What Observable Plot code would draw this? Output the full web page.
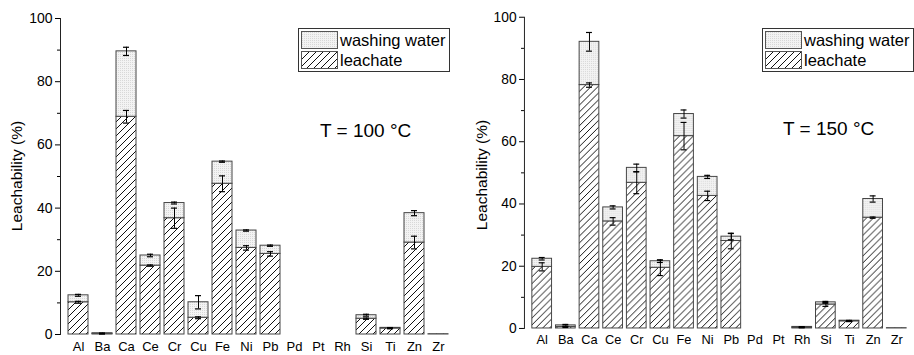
<!DOCTYPE html>
<html><head><meta charset="utf-8">
<script src="https://cdn.jsdelivr.net/npm/d3@7"></script>
<script src="https://cdn.jsdelivr.net/npm/@observablehq/plot@0.6"></script>
<style>
body{margin:0;background:#fff;}
#wrap{position:relative;width:914px;height:355px;overflow:hidden;font-family:"Liberation Sans",Arial,sans-serif;background:#fff;}
.abs{position:absolute;top:0;}
</style>
</head><body>
<div id="wrap"></div>
<script>
// ---- data ----
const elements = ["Al","Ba","Ca","Ce","Cr","Cu","Fe","Ni","Pb","Pd","Pt","Rh","Si","Ti","Zn","Zr"];
const seriesNames = ["washing water","leachate"];
const yTicks = [0,20,40,60,80,100];
const yMinorTicks = [10,30,50,70,90];
const panelTitles = ["T = 100 °C","T = 150 °C"];
const yTitle = "Leachability (%)";

// T = 100 °C
const leach100    = [10.2,0.2,68.9,21.8,36.8,5.3,47.7,27.4,25.5,0,0,0,5.0,1.9,29.1,0.1];
const wash100     = [2.2,0.2,20.7,3.2,4.8,4.9,7.0,5.5,2.6,0,0,0,1.1,0.2,9.3,0];
const errLeach100 = [0.3,0.05,2.0,0.2,3.2,0.3,2.5,0.7,0.7,0,0,0,0.2,0.1,2.0,0];
const errTotal100 = [0.3,0.05,1.3,0.4,0.3,2.1,0.2,0.2,0.2,0,0,0,0.3,0.1,0.8,0];

// T = 150 °C
const leach150    = [19.8,0.5,78.2,34.4,46.8,19.5,61.8,42.6,28.1,0,0,0.3,7.7,2.3,35.6,0.1];
const wash150     = [2.6,0.5,13.9,4.5,4.8,2.1,7.1,6.1,1.4,0,0,0.2,0.7,0.2,6.0,0];
const errLeach150 = [1.3,0.2,0.7,1.2,3.5,2.5,4.4,1.5,2.5,0,0,0.1,0.6,0.1,0.2,0];
const errTotal150 = [0.4,0.3,3.0,0.5,1.2,0.4,1.3,0.5,1.0,0,0,0.1,0.3,0.1,1.0,0];

// ---- patterns ----
const wrap = d3.select("#wrap");
const defsSvg = wrap.append("svg").attr("width",0).attr("height",0).style("position","absolute");
const defs = defsSvg.append("defs");
const hatch = defs.append("pattern").attr("id","hatch").attr("patternUnits","userSpaceOnUse")
  .attr("width",7).attr("height",7);
hatch.append("rect").attr("width",7).attr("height",7).attr("fill","#fff");
hatch.append("path").attr("d","M-1,8 l2,-2 M0,7 l7,-7 M6,1 l2,-2").attr("stroke","#111").attr("stroke-width",1);
const dots = defs.append("pattern").attr("id","dots").attr("patternUnits","userSpaceOnUse")
  .attr("width",2).attr("height",2);
dots.append("rect").attr("width",2).attr("height",2).attr("fill","#f3f3f3");
dots.append("rect").attr("width",1).attr("height",1).attr("fill","#d8d8d8");

function panel(leach, wash, errL, errT, o) {
  const rows = elements.map((e,i)=>({el:e, l:leach[i], t:leach[i]+wash[i], eL:errL[i], eT:errT[i]}));
  const eLrows = rows.filter(d=>d.eL>0);
  const eTrows = rows.filter(d=>d.eT>0);
  return Plot.plot({
    width:o.width, height:355,
    marginLeft:o.ml, marginRight:o.mr, marginTop:o.mt, marginBottom:o.mb,
    style:{fontFamily:"Liberation Sans, Arial, sans-serif", fontSize:"14px", background:"transparent", color:"#000", overflow:"visible"},
    x:{domain:elements, paddingInner:0.18, paddingOuter:0.15, label:null},
    y:{domain:[0,100], label:null},
    marks:[
      Plot.barY(rows,{x:"el", y1:0, y2:"l", fill:"url(#hatch)", stroke:"#444", strokeWidth:1}),
      Plot.barY(rows,{x:"el", y1:"l", y2:"t", fill:"url(#dots)", stroke:"#444", strokeWidth:1}),
      Plot.ruleY(rows.filter(d=>d.t>d.l && d.l>0),{x:"el", y:"l", stroke:"#000", strokeWidth:1.2}),
      Plot.ruleX(eLrows,{x:"el", y1:d=>d.l-d.eL, y2:d=>d.l+d.eL, stroke:"#000", strokeWidth:1}),
      Plot.tickY(eLrows,{x:"el", y:d=>d.l-d.eL, stroke:"#000", strokeWidth:1.2, insetLeft:7, insetRight:7}),
      Plot.tickY(eLrows,{x:"el", y:d=>d.l+d.eL, stroke:"#000", strokeWidth:1.2, insetLeft:7, insetRight:7}),
      Plot.ruleX(eTrows,{x:"el", y1:d=>d.t-d.eT, y2:d=>d.t+d.eT, stroke:"#000", strokeWidth:1}),
      Plot.tickY(eTrows,{x:"el", y:d=>d.t-d.eT, stroke:"#000", strokeWidth:1.2, insetLeft:7, insetRight:7}),
      Plot.tickY(eTrows,{x:"el", y:d=>d.t+d.eT, stroke:"#000", strokeWidth:1.2, insetLeft:7, insetRight:7}),
      Plot.frame({anchor:"left", stroke:"#222"}),
      Plot.axisY({ticks:yTicks, tickSize:5, tickPadding:3, fontSize:14, label:null}),
      Plot.axisY({ticks:yMinorTicks, tickSize:3, tickFormat:()=>"", label:null}),
      Plot.axisX({tickSize:0, tickPadding:7, fontSize:13, label:null})
    ]
  });
}

function addPanel(left, plot) {
  const d = wrap.append("div").attr("class","abs").style("left",left+"px");
  d.node().appendChild(plot);
}
addPanel(0, panel(leach100, wash100, errLeach100, errTotal100, {width:457, ml:60, mr:2, mt:18, mb:21}));
addPanel(457, panel(leach150, wash150, errLeach150, errTotal150, {width:464, ml:68, mr:1, mt:17, mb:22}));

// ---- y titles, legends and panel titles ----
const over = wrap.append("svg").attr("class","abs").attr("width",914).attr("height",355).style("pointer-events","none");
[[17,176],[482,175]].forEach(([x,y])=>{
  over.append("text").attr("transform",`translate(${x},${y}) rotate(-90)`).attr("text-anchor","middle")
    .attr("dy","0.35em").attr("font-size",15.5).attr("fill","#000").text(yTitle);
});
function legend(x, y, title, tx, ty) {
  const g = over.append("g").attr("transform",`translate(${x},${y})`);
  g.append("rect").attr("x",0.5).attr("y",0.5).attr("width",151).attr("height",43).attr("fill","#fff").attr("stroke","#333");
  const fills = ["url(#dots)","url(#hatch)"];
  seriesNames.forEach((s,i)=>{
    g.append("rect").attr("x",3.5).attr("y",3.5+i*20).attr("width",36).attr("height",17).attr("fill",fills[i]).attr("stroke","#555");
    g.append("text").attr("x",42).attr("y",12+i*20).attr("dy","0.35em").attr("font-size",16.5).attr("fill","#000").text(s);
  });
  over.append("text").attr("x",tx).attr("y",ty).attr("dy","0.35em").attr("font-size",19).attr("fill","#000").text(title);
}
legend(298, 28, panelTitles[0], 320, 130);
legend(762, 28, panelTitles[1], 783, 128);
</script>
</body></html>
